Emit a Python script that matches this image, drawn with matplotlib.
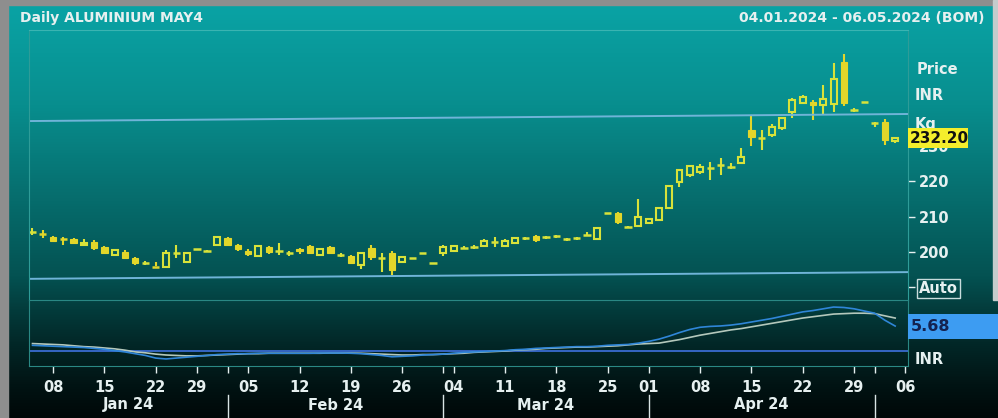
import matplotlib
matplotlib.use('Agg')
import matplotlib.pyplot as plt
import matplotlib.transforms as mtrans
from matplotlib.colors import LinearSegmentedColormap
from matplotlib.patches import Rectangle
import numpy as np
import pandas as pd

W, H = 998, 418

# trading days (MCX holidays dropped)
holidays = ['2024-01-26', '2024-03-29']
days = pd.bdate_range('2024-01-04', '2024-05-06')
days = days[~days.isin(pd.to_datetime(holidays))]

opens = [205.7, 205.1, 204.2, 203.7, 203.7, 202.0, 202.9, 201.3, 199.2, 200.1,
         198.2, 196.8, 195.9, 195.8, 199.6, 197.3, 200.7, 200.4, 202.0, 204.0,
         202.0, 200.4, 198.9, 201.5, 200.4, 199.6, 200.8, 201.7, 199.2, 201.5,
         199.2, 198.9, 196.3, 201.1, 198.3, 199.7, 197.2, 198.2, 199.6, 196.8,
         199.6, 200.4, 201.2, 201.3, 201.8, 202.7, 201.8, 202.5, 203.9, 204.5,
         204.2, 204.4, 203.6, 203.9, 204.8, 203.7, 211.0, 211.0, 207.2, 207.4,
         208.3, 209.1, 212.6, 219.9, 221.8, 222.7, 223.7, 224.6, 224.2, 225.1,
         234.6, 232.2, 233.1, 235.0, 239.7, 242.1, 242.6, 241.6, 241.9, 253.9,
         240.2, 242.4, 236.5, 236.9, 231.4]
highs = [206.8, 206.2, 204.6, 204.3, 204.0, 203.7, 203.3, 201.7, 200.9, 200.5,
         198.6, 197.4, 197.2, 200.6, 202.0, 200.1, 200.9, 200.6, 204.6, 204.3,
         202.2, 200.9, 202.0, 201.7, 202.5, 200.2, 201.0, 202.0, 201.1, 201.8,
         199.8, 199.2, 199.9, 202.0, 199.7, 200.4, 198.9, 198.3, 199.7, 196.9,
         202.0, 202.0, 201.6, 202.0, 203.6, 204.2, 203.6, 204.3, 204.3, 204.7,
         204.6, 204.8, 204.0, 204.3, 205.6, 207.2, 211.1, 211.2, 207.3, 214.9,
         209.5, 212.8, 219.0, 223.5, 224.7, 224.8, 225.6, 226.6, 225.3, 229.4,
         238.5, 234.6, 236.2, 238.3, 243.6, 244.4, 243.1, 247.3, 253.5, 256.1,
         240.7, 242.5, 236.7, 237.6, 232.6]
lows = [204.9, 204.0, 202.7, 202.0, 202.2, 201.9, 200.7, 199.3, 199.0, 197.9,
        196.4, 196.2, 195.6, 195.5, 198.3, 197.0, 200.6, 200.3, 201.8, 201.8,
        200.2, 199.0, 198.7, 199.3, 199.2, 199.0, 199.3, 199.3, 199.0, 199.3,
        198.5, 196.5, 195.2, 197.7, 194.3, 193.5, 197.0, 198.1, 199.5, 196.7,
        199.0, 200.2, 200.8, 200.9, 201.5, 201.4, 201.4, 202.2, 203.5, 202.9,
        203.8, 204.0, 203.2, 203.5, 204.4, 203.4, 210.9, 207.8, 207.1, 207.2,
        208.1, 208.9, 212.2, 218.5, 221.2, 222.0, 220.4, 221.8, 223.4, 224.8,
        230.0, 228.9, 232.6, 234.6, 237.9, 241.8, 237.4, 238.8, 239.7, 241.4,
        239.6, 242.3, 235.3, 230.3, 230.8]
closes = [205.8, 205.0, 203.0, 203.6, 202.5, 202.55, 201.0, 199.6, 200.6, 198.2,
          196.8, 196.9, 195.8, 199.8, 199.7, 199.8, 200.8, 200.4, 204.3, 202.0,
          200.8, 199.4, 201.7, 200.1, 200.4, 199.6, 200.2, 199.6, 200.8, 199.6,
          199.2, 196.8, 199.6, 198.7, 198.3, 194.9, 198.6, 198.2, 199.6, 196.8,
          201.5, 201.7, 201.2, 201.3, 203.2, 202.7, 203.2, 203.9, 203.9, 203.4,
          204.2, 204.4, 203.6, 203.9, 204.8, 206.9, 211.0, 208.6, 207.2, 209.8,
          209.3, 212.5, 218.6, 223.2, 224.4, 224.2, 223.7, 224.6, 224.2, 227.0,
          232.7, 232.2, 235.5, 237.9, 243.1, 244.0, 241.6, 243.3, 248.9, 242.1,
          240.2, 242.4, 236.5, 231.7, 232.2]

macd = [1.3, 1.2, 1.1, 1.0, 0.9, 0.8, 0.6, 0.4, 0.1, -0.2,
        -0.6, -1.0, -1.6, -1.8, -1.6, -1.4, -1.2, -1.0, -0.8, -0.7,
        -0.6, -0.6, -0.5, -0.5, -0.5, -0.5, -0.5, -0.5, -0.45, -0.45,
        -0.45, -0.5, -0.6, -0.8, -1.0, -1.3, -1.2, -1.1, -0.9, -0.8,
        -0.7, -0.5, -0.3, -0.2, -0.1, 0.0, 0.1, 0.3, 0.4, 0.6,
        0.7, 0.8, 0.9, 1.0, 1.0, 1.1, 1.3, 1.4, 1.5, 1.8,
        2.2, 2.7, 3.4, 4.2, 4.9, 5.4, 5.6, 5.7, 5.9, 6.2,
        6.6, 7.0, 7.4, 7.9, 8.4, 8.9, 9.2, 9.6, 10.0, 9.9,
        9.6, 9.1, 8.6, 7.0, 5.68]
signal = [1.7, 1.6, 1.5, 1.4, 1.2, 1.0, 0.9, 0.7, 0.5, 0.2,
          -0.2, -0.4, -0.7, -0.9, -1.0, -1.1, -1.1, -1.0, -0.9, -0.8,
          -0.7, -0.6, -0.6, -0.5, -0.5, -0.5, -0.5, -0.5, -0.5, -0.45,
          -0.45, -0.45, -0.5, -0.6, -0.7, -0.8, -0.9, -0.9, -0.8, -0.8,
          -0.7, -0.6, -0.5, -0.3, -0.2, -0.1, 0.0, 0.2, 0.3, 0.4,
          0.6, 0.7, 0.8, 0.9, 0.9, 1.0, 1.1, 1.2, 1.4, 1.6,
          1.7, 1.8, 2.2, 2.6, 3.1, 3.6, 4.0, 4.4, 4.8, 5.1,
          5.5, 5.9, 6.3, 6.7, 7.1, 7.5, 7.8, 8.1, 8.4, 8.5,
          8.6, 8.6, 8.5, 8.0, 7.5]

upper_lvl = [237.1, 239.1]
lower_lvl = [192.4, 194.3]

tick_days = ['2024-01-08', '2024-01-15', '2024-01-22', '2024-01-29', '2024-02-05',
             '2024-02-12', '2024-02-19', '2024-02-26', '2024-03-04', '2024-03-11',
             '2024-03-18', '2024-03-25', '2024-04-01', '2024-04-08', '2024-04-15',
             '2024-04-22', '2024-04-29', '2024-05-06']
month_names = ['Jan 24', 'Feb 24', 'Mar 24', 'Apr 24']
month_starts = ['2024-02-01', '2024-03-01', '2024-04-01', '2024-05-01']

up_col = '#d8e23a'
down_col = '#e2d62a'
white = '#e6f0f0'
frame = '#2e9c98'

fig = plt.figure(figsize=(W / 100, H / 100), dpi=100)

# background gradient, pixel coordinates
bg = fig.add_axes([0, 0, 1, 1], zorder=0)
cmap = LinearSegmentedColormap.from_list('bg', [
    (0.0, '#0aa4a6'), (0.25, '#088e8e'), (0.48, '#066c6c'),
    (0.66, '#045252'), (0.74, '#033c3c'), (0.82, '#022828'),
    (0.92, '#011414'), (1.0, '#000808')])
grad = np.linspace(0, 1, 256).reshape(-1, 1)
bg.imshow(grad, aspect='auto', cmap=cmap, extent=[0, W, H, 0])
bg.set_xlim(0, W)
bg.set_ylim(H, 0)
bg.axis('off')

bg.text(20, 18, 'Daily ALUMINIUM MAY4', color=white, fontsize=10,
        fontweight='bold', va='center', ha='left')
bg.text(985, 18, '04.01.2024 - 06.05.2024 (BOM)', color=white, fontsize=10,
        fontweight='bold', va='center', ha='right')
bg.text(917, 70, 'Price', color=white, fontsize=10.5, fontweight='bold', va='center')
bg.text(915, 96, 'INR', color=white, fontsize=10.5, fontweight='bold', va='center')
bg.text(915, 124, 'Kg', color=white, fontsize=10.5, fontweight='bold', va='center')
bg.text(915, 359, 'INR', color=white, fontsize=10.5, fontweight='bold', va='center')

# price panel
ax = fig.add_axes([29 / W, 1 - 300 / H, 879 / W, 270 / H], zorder=1)
ax.patch.set_visible(False)
ax.set_xlim(-0.34, 85.25)
ax.set_ylim(186.4, 262.9)

for i, (o, h, l, c) in enumerate(zip(opens, highs, lows, closes)):
    top, bot = max(o, c), min(o, c)
    col = down_col if c < o else up_col
    ax.vlines(i, top, h, color=col, lw=1.5)
    ax.vlines(i, l, bot, color=col, lw=1.5)
    if top - bot < 0.4:
        ax.hlines((o + c) / 2, i - 0.36, i + 0.36, color=col, lw=1.8)
    elif c < o:
        ax.bar(i, top - bot, bottom=bot, width=0.62, color=col,
               edgecolor=col, lw=0.8)
    else:
        ax.bar(i, top - bot, bottom=bot, width=0.58, facecolor='none',
               edgecolor=col, lw=1.5)

x0, x1 = ax.get_xlim()
ax.plot([x0, x1], upper_lvl, color='#6fb4d8', lw=1.4)
ax.plot([x0, x1], lower_lvl, color='#6fb4d8', lw=1.4)

ax.yaxis.tick_right()
ax.set_yticks([190, 200, 210, 220, 230])
ax.set_yticklabels(['Auto', '200', '210', '220', '230'])
ax.tick_params(axis='y', colors=white, length=5, width=1, pad=3, labelsize=10.5)
for lbl in ax.get_yticklabels():
    lbl.set_fontweight('bold')
ax.get_yticklabels()[0].set_bbox(dict(facecolor='none', edgecolor='#c8dcdc',
                                      boxstyle='square,pad=0.15', lw=1))
ax.set_xticks([])
for s in ['left', 'right']:
    ax.spines[s].set_color(frame)
ax.spines['top'].set_color('#3ab4b2')
ax.spines['bottom'].set_color('#2a8884')

# last price marker
btr = mtrans.blended_transform_factory(ax.transAxes, ax.transData)
ax.add_patch(Rectangle((1.0, closes[-1] - 2.85), 60 / 879, 5.7, transform=btr,
                       facecolor='#f4ee2c', edgecolor='none', clip_on=False, zorder=6))
ax.text(1.0 + 2 / 879, closes[-1], '%.2f' % closes[-1], transform=btr, color='#111111',
        fontsize=11, fontweight='bold', va='center', ha='left', zorder=7, clip_on=False)

# indicator panel
ax2 = fig.add_axes([29 / W, 1 - 366 / H, 879 / W, 66 / H], zorder=1)
ax2.patch.set_visible(False)
ax2.set_xlim(x0, x1)
ax2.set_ylim(-3.4, 11.6)
idx = np.arange(len(macd))
ax2.axhline(0, color='#3a6cd0', lw=1.3)
ax2.plot(idx, signal, color='#b4c8bc', lw=1.2)
ax2.plot(idx, macd, color='#2f86d8', lw=1.2)
ax2.set_yticks([])
ax2.spines['top'].set_visible(False)
for s in ['left', 'right', 'bottom']:
    ax2.spines[s].set_color('#2a8884')

pos = {d: k for k, d in enumerate(days.strftime('%Y-%m-%d'))}
ax2.set_xticks([pos[d] for d in tick_days])
ax2.set_xticklabels([d[-2:] for d in tick_days])
ax2.set_xticks([pos[d] for d in month_starts if d != '2024-04-01'], minor=True)
ax2.tick_params(axis='x', which='both', colors=white, length=5, width=1, pad=5,
                labelsize=10.5)
for lbl in ax2.get_xticklabels():
    lbl.set_fontweight('bold')

btr2 = mtrans.blended_transform_factory(ax2.transAxes, ax2.transData)
ax2.add_patch(Rectangle((1.0, macd[-1] - 2.85), 90 / 879, 5.7, transform=btr2,
                        facecolor='#3d9cf2', edgecolor='none', clip_on=False, zorder=6))
ax2.text(1.0 + 3 / 879, macd[-1], '%.2f' % macd[-1], transform=btr2, color='#142250',
         fontsize=11.5, fontweight='bold', va='center', ha='left', zorder=7, clip_on=False)

# month row
bounds = [x0] + [pos[d] for d in month_starts]
for k, name in enumerate(month_names):
    ax2.annotate(name, xy=((bounds[k] + bounds[k + 1]) / 2, 0),
                 xycoords=('data', 'axes fraction'), xytext=(0, -39),
                 textcoords='offset pixels', ha='center', va='center',
                 color=white, fontsize=10.5, fontweight='bold', annotation_clip=False)
sep = mtrans.blended_transform_factory(ax2.transData, ax2.transAxes)
for b in bounds[1:]:
    ax2.plot([b, b], [-0.44, -0.8], transform=sep, color='#d8e4e4', lw=1, clip_on=False)

# outer grey frame
ov = fig.add_axes([0, 0, 1, 1], zorder=10)
ov.set_xlim(0, W)
ov.set_ylim(H, 0)
ov.axis('off')
ov.patch.set_alpha(0)
ov.add_patch(Rectangle((0, 0), W, 5, color='#8e8e8e'))
ov.add_patch(Rectangle((0, 0), 8, H, color='#8e8e8e'))
ov.add_patch(Rectangle((993, 0), 5, 300, color='#c4cccc'))

fig.savefig('out.png', dpi=100)
